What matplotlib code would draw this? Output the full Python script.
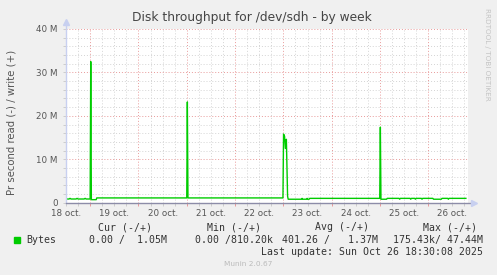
import numpy as np
import matplotlib.pyplot as plt
from matplotlib.ticker import FixedLocator

# tid i timer fra 18 okt 00:00, skrivning i MB/s
hours = [
    12.0, 13.5, 14.0, 14.5, 17.0, 17.5, 18.0, 21.0, 21.5, 22.0, 24.0,
    24.3, 24.6, 27.0, 27.3,
    72.0, 72.3, 72.6,
    119.8, 120.1, 120.6, 121.0, 121.5, 122.1, 122.4,
    129.0, 129.3, 129.6, 131.5, 131.8, 132.1, 132.8, 133.1,
    167.9, 168.2, 168.5, 171.3, 171.6,
    177.5, 177.8, 178.1, 183.0, 183.3, 183.6, 185.3, 185.6, 185.9,
    188.6, 188.9, 189.2, 194.3, 194.6, 198.5, 198.8,
    201.7, 202.0, 202.3, 210.7,
]
write_mb = [
    0.85, 0.85, 1.0, 0.85, 0.85, 1.0, 0.85, 0.85, 1.0, 0.85, 0.85,
    32.5, 0.7, 0.7, 1.1,
    1.1, 23.2, 1.1,
    1.1, 15.8, 15.3, 12.5, 14.6, 1.5, 0.8,
    0.8, 1.0, 0.8, 0.8, 1.0, 0.8, 0.8, 1.0,
    1.0, 17.4, 0.8, 0.8, 1.0,
    1.0, 0.8, 1.0, 1.0, 0.8, 1.0, 1.0, 0.8, 1.0,
    1.0, 0.8, 1.0, 1.0, 0.8, 0.8, 1.0,
    1.0, 0.8, 1.0, 1.0,
]
day_labels = ['18 oct.', '19 oct.', '20 oct.', '21 oct.', '22 oct.',
              '23 oct.', '24 oct.', '25 oct.', '26 oct.']
y_major = [0, 10, 20, 30, 40]

legend_head = ['Cur (-/+)', 'Min (-/+)', 'Avg (-/+)', 'Max (-/+)']
legend_vals = ['0.00 /  1.05M', '0.00 /810.20k', '401.26 /   1.37M', '175.43k/ 47.44M']
last_update = 'Last update: Sun Oct 26 18:30:08 2025'

W, H = 497, 275
def fx(x): return x / W
def fy(y): return 1 - y / H

fig = plt.figure(figsize=(W/100, H/100), dpi=100, facecolor='#F0F0F0')
x0, x1, y0, y1 = 66, 467.7, 29, 202.7
ax = fig.add_axes([fx(x0), fy(y1), fx(x1) - fx(x0), fy(y0) - fy(y1)])
ax.set_facecolor('white')

ax.plot(hours, write_mb, color='#00CC00', lw=1.0, zorder=5)
ax.set_xlim(12, 211.6)
ax.set_ylim(0, 40)

# grid: stiplet, roed for hovedlinjer
ax.xaxis.set_major_locator(FixedLocator(np.arange(24, 211, 24)))
ax.xaxis.set_minor_locator(FixedLocator([h for h in np.arange(12, 211, 6) if h % 24 != 0]))
ax.yaxis.set_major_locator(FixedLocator(y_major))
ax.yaxis.set_minor_locator(FixedLocator([v for v in range(2, 40, 2) if v % 10 != 0]))
ax.grid(which='minor', color='#d4d4d4', lw=0.7, ls=(0, (1, 2)))
ax.grid(which='major', color='#e89a9a', lw=0.7, ls=(0, (1, 2)))
ax.set_axisbelow(True)

ax.set_xticklabels([])
ax.tick_params(axis='x', which='both', length=2, width=0.7, colors='#cccccc', labelsize=0)
ax.tick_params(axis='x', which='major', colors='#e89a9a')
ax.tick_params(axis='y', which='both', length=2, width=0.7, colors='#cccccc')
ax.set_yticklabels(['0', '10 M', '20 M', '30 M', '40 M'])
ax.tick_params(axis='y', which='major', labelcolor='#555555', labelsize=6.3, pad=4)
for i, lab in enumerate(day_labels):
    ax.text(12 + 24*i, -1.5, lab, ha='center', va='top', fontsize=6.3, color='#555555',
            clip_on=False)

for s in ['top', 'right', 'left', 'bottom']:
    ax.spines[s].set_visible(False)
# akser med pile
ax.plot([12, 12], [0, 41.5], color='#c8d0f0', lw=1.0, clip_on=False, zorder=6)
ax.plot([12], [41.5], marker='^', ms=4, color='#c8d0f0', clip_on=False, zorder=6)
ax.plot([12, 214.5], [0, 0], color='#8c8ca8', lw=1.0, clip_on=False, zorder=6)
ax.plot([214.5], [0], marker='>', ms=4, color='#c8d0f0', clip_on=False, zorder=6)

fig.text(fx(252), fy(18), 'Disk throughput for /dev/sdh - by week', ha='center', va='center',
         fontsize=8.8, color='#444444')
fig.text(fx(12), fy(122), 'Pr second read (-) / write (+)', rotation=90, ha='center',
         va='center', fontsize=7.3, color='#555555')
fig.text(fx(487), fy(54), 'RRDTOOL / TOBI OETIKER', rotation=270, ha='center', va='center',
         fontsize=5.2, color='#c4c4c4')

mono = dict(family='DejaVu Sans Mono', fontsize=7.1, color='#333333', va='center')
for x, t in zip([98, 207, 315, 423], legend_head):
    fig.text(fx(x), fy(227), t, ha='left', **mono)
fig.patches.append(plt.Rectangle((fx(14), fy(243.3)), fx(6), 6/H, color='#00CC00',
                                 transform=fig.transFigure, figure=fig))
fig.text(fx(26), fy(240), 'Bytes', ha='left', **mono)
for x, t in zip([167, 273, 378, 483], legend_vals):
    fig.text(fx(x), fy(240), t, ha='right', **mono)
fig.text(fx(483), fy(252), last_update, ha='right', **mono)
fig.text(fx(248), fy(264), 'Munin 2.0.67', ha='center', va='center', fontsize=5.3,
         color='#bbbbbb')

fig.savefig('out.png', dpi=100, facecolor=fig.get_facecolor())
